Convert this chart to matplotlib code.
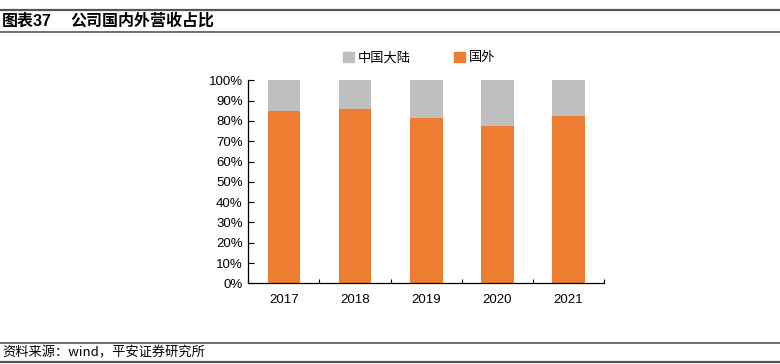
import matplotlib
matplotlib.use("Agg")
import matplotlib.pyplot as plt
from matplotlib.lines import Line2D
from matplotlib.patches import Patch
import numpy as np

plt.rcParams['font.family'] = ['Liberation Sans', 'Noto Sans CJK SC', 'DejaVu Sans']

years = ['2017', '2018', '2019', '2020', '2021']
overseas = [84.7, 85.9, 81.6, 77.5, 82.4]
mainland = [100 - v for v in overseas]
yticks = [0, 10, 20, 30, 40, 50, 60, 70, 80, 90, 100]

ORANGE = '#ED7D31'
GRAY = '#BFBFBF'

fig = plt.figure(figsize=(7.8, 3.64), dpi=100)
ax = fig.add_axes([248.3/780, 1 - 283.3/364, (604 - 248.3)/780, (283.3 - 80.3)/364])

x = np.arange(len(years))
ax.bar(x, overseas, width=0.46, color=ORANGE, label='国外', zorder=2)
ax.bar(x, mainland, width=0.46, bottom=overseas, color=GRAY, label='中国大陆', zorder=2)

ax.set_xlim(-0.5, len(years) - 0.5)
ax.set_ylim(0, 100)
ax.set_yticks(yticks)
ax.set_yticklabels([f'{v}%' for v in yticks], fontsize=9.5)
ax.set_xticks(x)
ax.set_xticklabels(years, fontsize=9.5)
ax.tick_params(axis='x', length=0, pad=8)
ax.set_xticks(np.arange(-0.5, len(years)), minor=True)
ax.tick_params(axis='x', which='minor', direction='in', length=3, width=0.8)
ax.tick_params(axis='y', direction='in', length=4, width=0.8, pad=4)
for s in ['top', 'right']:
    ax.spines[s].set_visible(False)
for s in ['left', 'bottom']:
    ax.spines[s].set_linewidth(0.9)
    ax.spines[s].set_color('#000000')

handles = [Patch(color=GRAY, label='中国大陆'), Patch(color=ORANGE, label='国外')]
fig.legend(handles=handles, loc='center', bbox_to_anchor=(419/780, 1 - 58/364),
           ncol=2, frameon=False, fontsize=9.5, handlelength=0.8, handleheight=0.8,
           handletextpad=0.3, columnspacing=3.3)

# title and rules
fig.add_artist(Line2D([0, 1], [1 - 9.5/364, 1 - 9.5/364], color='#555555', lw=1.6))
fig.add_artist(Line2D([0, 1], [1 - 32/364, 1 - 32/364], color='#555555', lw=1.2))
fig.text(2/780, 1 - 21/364, '图表37', fontsize=11.5, fontweight='bold', va='center', ha='left',
         family=['Liberation Sans', 'Noto Sans CJK SC'])
fig.text(70/780, 1 - 21/364, '公司国内外营收占比', fontsize=11.5, fontweight='bold', va='center', ha='left',
         family=['Noto Sans CJK SC'])

fig.add_artist(Line2D([0, 1], [1 - 343/364, 1 - 343/364], color='#555555', lw=1.2))
fig.add_artist(Line2D([0, 1], [1 - 362/364, 1 - 362/364], color='#555555', lw=1.6))
fig.text(2/780, 1 - 353/364, '资料来源：wind，平安证券研究所', fontsize=9.5, style='italic',
         va='center', ha='left', family=['Noto Sans CJK SC', 'Liberation Sans'])

fig.savefig('out.png', dpi=100)
